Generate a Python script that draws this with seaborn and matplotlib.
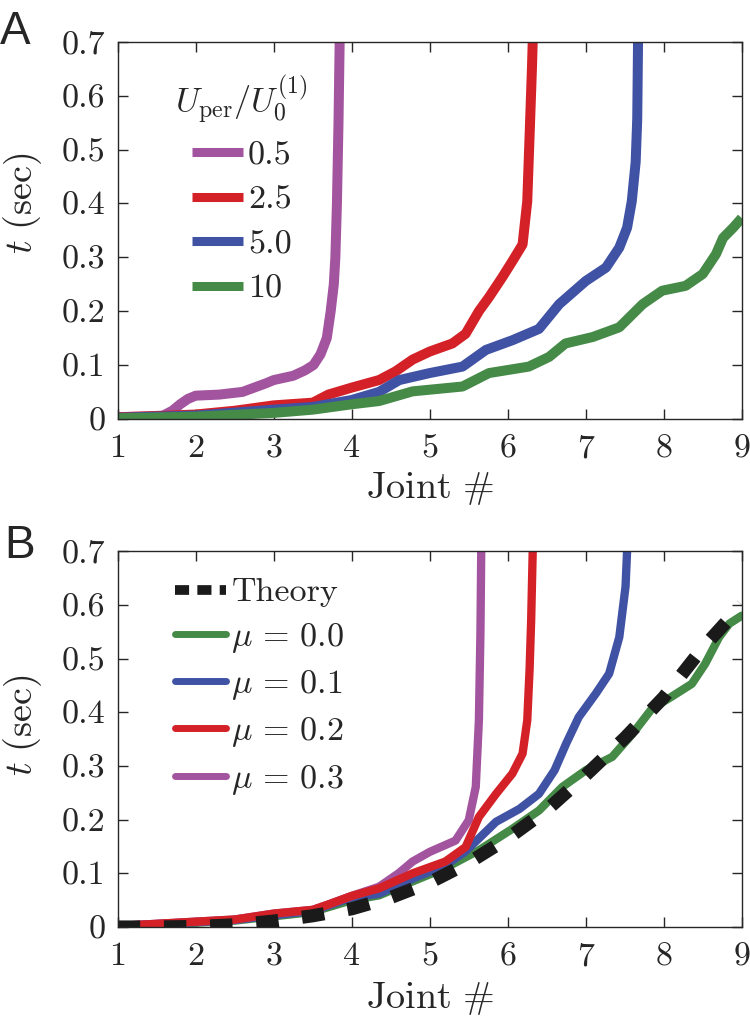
import matplotlib
matplotlib.use("Agg")
import matplotlib.pyplot as plt
import seaborn as sns

# ---------------- data ----------------
x_ticks = [1, 2, 3, 4, 5, 6, 7, 8, 9]
y_ticks = [0, 0.1, 0.2, 0.3, 0.4, 0.5, 0.6, 0.7]
y_tick_labels = ["0", "0.1", "0.2", "0.3", "0.4", "0.5", "0.6", "0.7"]

# Panel A: U_per / U_0^(1)
a_labels = ["0.5", "2.5", "5.0", "10"]
a05_x = [1.0, 1.3, 1.58, 1.7, 1.8, 1.9, 2.0, 2.3, 2.6, 2.75, 2.9, 3.0, 3.25, 3.4,
         3.51, 3.6, 3.68, 3.73, 3.77, 3.79, 3.81, 3.83, 3.84, 3.85]
a05_y = [0.003, 0.004, 0.006, 0.015, 0.027, 0.037, 0.043, 0.045, 0.05, 0.058, 0.066,
         0.072, 0.08, 0.09, 0.1, 0.12, 0.15, 0.2, 0.25, 0.3, 0.4, 0.55, 0.65, 0.75]
a25_x = [1.0, 1.5, 2.0, 2.5, 3.0, 3.5, 3.7, 4.0, 4.35, 4.56, 4.78, 5.0, 5.29, 5.46,
         5.63, 5.76, 5.93, 6.06, 6.19, 6.25, 6.28, 6.31, 6.33]
a25_y = [0.003, 0.005, 0.008, 0.015, 0.025, 0.03, 0.045, 0.058, 0.072, 0.088, 0.11,
         0.125, 0.14, 0.158, 0.2, 0.226, 0.263, 0.293, 0.324, 0.404, 0.526, 0.65,
         0.75]
a50_x = [1.0, 2.0, 3.0, 3.5, 4.0, 4.35, 4.61, 5.0, 5.42, 5.72, 6.06, 6.4, 6.66, 7.0,
         7.26, 7.43, 7.53, 7.59, 7.64, 7.66, 7.67, 7.67]
a50_y = [0.002, 0.006, 0.017, 0.022, 0.035, 0.05, 0.072, 0.085, 0.097, 0.128, 0.146,
         0.167, 0.213, 0.256, 0.281, 0.318, 0.355, 0.404, 0.477, 0.557, 0.695, 0.75]
a10_x = [1.0, 2.0, 3.0, 3.5, 4.0, 4.35, 4.78, 5.42, 5.76, 6.27, 6.53, 6.74, 7.09,
         7.43, 7.73, 7.98, 8.28, 8.5, 8.67, 8.76, 8.89, 9.0]
a10_y = [0.001, 0.004, 0.011, 0.017, 0.027, 0.033, 0.051, 0.06, 0.085, 0.097, 0.115,
         0.14, 0.152, 0.17, 0.213, 0.238, 0.247, 0.269, 0.306, 0.336, 0.355, 0.373]

# Panel B: friction coefficient mu
b_labels = ["Theory", r"$\mu\,=\,0.0$", r"$\mu\,=\,0.1$", r"$\mu\,=\,0.2$",
            r"$\mu\,=\,0.3$"]
theory_x = [1, 1.5, 2, 2.5, 3, 3.5, 4, 4.5, 5, 5.5, 6, 6.5, 7, 7.5, 8, 8.5, 9]
theory_y = [0, 0, 0.001, 0.004, 0.011, 0.021, 0.034, 0.055, 0.083, 0.12, 0.165,
            0.218, 0.283, 0.352, 0.428, 0.52, 0.6]
b00_x = [1, 2, 2.5, 3, 3.5, 3.7, 4.0, 4.35, 4.78, 5.2, 5.63, 6.06, 6.4, 6.7, 7.0,
         7.34, 7.6, 7.85, 8.1, 8.36, 8.53, 8.71, 8.84, 9.0]
b00_y = [0.002, 0.008, 0.012, 0.02, 0.028, 0.037, 0.05, 0.059, 0.085, 0.11, 0.143,
         0.183, 0.217, 0.261, 0.292, 0.317, 0.36, 0.407, 0.429, 0.453, 0.49, 0.54,
         0.565, 0.58]
b01_x = [1, 2, 2.5, 3, 3.5, 3.7, 4.0, 4.35, 4.78, 5.2, 5.45, 5.63, 5.85, 6.15, 6.4,
         6.6, 6.75, 6.91, 7.13, 7.3, 7.43, 7.51, 7.53]
b01_y = [0.002, 0.009, 0.013, 0.022, 0.03, 0.04, 0.055, 0.062, 0.09, 0.115, 0.14,
         0.165, 0.196, 0.22, 0.248, 0.292, 0.342, 0.391, 0.435, 0.472, 0.54, 0.634,
         0.70]
b02_x = [1, 2, 2.5, 3, 3.5, 3.7, 4.0, 4.35, 4.78, 5.2, 5.46, 5.63, 5.85, 6.06, 6.19,
         6.25, 6.28, 6.3, 6.32]
b02_y = [0.002, 0.01, 0.014, 0.025, 0.032, 0.042, 0.058, 0.072, 0.1, 0.122, 0.149,
         0.205, 0.248, 0.286, 0.323, 0.385, 0.48, 0.571, 0.70]
b03_x = [1, 2, 2.5, 3, 3.5, 3.7, 4.0, 4.35, 4.6, 4.78, 5.0, 5.33, 5.5, 5.59, 5.63,
         5.65, 5.66]
b03_y = [0.002, 0.01, 0.014, 0.025, 0.032, 0.042, 0.058, 0.075, 0.1, 0.122, 0.14,
         0.161, 0.199, 0.261, 0.385, 0.55, 0.70]

# ---------------- style ----------------
PURPLE = "#A3549F"
RED = "#D42128"
BLUE = "#3F52A4"
GREEN = "#468A48"
TXT = "#262626"

sns.set_theme(style="ticks")
plt.rcParams.update({
    "font.family": ["cmr10", "DejaVu Serif"],
    "mathtext.fontset": "cm",
    "axes.formatter.use_mathtext": True,
    "axes.unicode_minus": False,
    "text.color": TXT,
    "axes.labelcolor": TXT,
    "xtick.color": TXT,
    "ytick.color": TXT,
    "axes.edgecolor": TXT,
})

FS = 24.5     # tick labels / legend
FSL = 27.5    # axis labels

fig = plt.figure(figsize=(7.5, 10.24), dpi=100)
axA = fig.add_axes([0.157, 0.591, 0.832, 0.368])
axB = fig.add_axes([0.157, 0.0947, 0.832, 0.367])


def style_axes(ax):
    ax.set_xlim(1, 9)
    ax.set_ylim(0, 0.7)
    ax.set_xticks(x_ticks)
    ax.set_xticklabels([str(v) for v in x_ticks])
    ax.set_yticks(y_ticks)
    ax.set_yticklabels(y_tick_labels)
    ax.tick_params(direction="in", length=7, width=1, top=True, right=True,
                   labelsize=FS)
    ax.tick_params(axis="x", pad=11)
    ax.tick_params(axis="y", pad=9)
    for s in ax.spines.values():
        s.set_visible(True)
        s.set_linewidth(1.0)
    ax.set_xlabel(r"$\mathrm{Joint}\ \#$", fontsize=FSL)
    ax.set_ylabel(r"$t\ (\mathrm{sec})$", fontsize=FSL)


# ---------------- panel A ----------------
LWA = 7.2
for xs, ys, c, lab in [(a05_x, a05_y, PURPLE, a_labels[0]),
                       (a25_x, a25_y, RED, a_labels[1]),
                       (a50_x, a50_y, BLUE, a_labels[2]),
                       (a10_x, a10_y, GREEN, a_labels[3])]:
    sns.lineplot(x=xs, y=ys, ax=axA, color=c, linewidth=LWA, sort=False,
                 estimator=None, label=lab, solid_capstyle="butt",
                 solid_joinstyle="round")
style_axes(axA)
axA.yaxis.set_label_coords(-0.118, 0.573)
axA.xaxis.set_label_coords(0.5, -0.137)
hA, lA = axA.get_legend_handles_labels()
legA = axA.legend(hA, lA, loc="upper left", bbox_to_anchor=(0.065, 0.962),
                  frameon=False, fontsize=FS, title=r"$U_{\rm per}/U_0^{(1)}$",
                  title_fontsize=FS, handlelength=1.5, handletextpad=0.15,
                  labelspacing=0.43, borderpad=0.0)
for ln in legA.get_lines():
    ln.set_linewidth(6.5)

# ---------------- panel B ----------------
LWB = 6.0
for xs, ys, c, lab in [(b00_x, b00_y, GREEN, b_labels[1]),
                       (b01_x, b01_y, BLUE, b_labels[2]),
                       (b03_x, b03_y, PURPLE, b_labels[4]),
                       (b02_x, b02_y, RED, b_labels[3])]:
    sns.lineplot(x=xs, y=ys, ax=axB, color=c, linewidth=LWB, sort=False,
                 estimator=None, label=lab, solid_capstyle="round",
                 solid_joinstyle="round")
sns.lineplot(x=theory_x, y=theory_y, ax=axB, color="#1a1a1a", linewidth=9.5,
             sort=False, estimator=None, label=b_labels[0])
axB.get_lines()[-1].set_dashes((1.7, 1.8))
axB.get_lines()[-1].set_dash_capstyle("butt")
style_axes(axB)
axB.yaxis.set_label_coords(-0.118, 0.537)
axB.xaxis.set_label_coords(0.5, -0.14)
hB, lB = axB.get_legend_handles_labels()
order = [lB.index(l) for l in b_labels]
legB = axB.legend([hB[i] for i in order], [lB[i] for i in order],
                  loc="upper left", bbox_to_anchor=(0.065, 0.975), frameon=False,
                  fontsize=FS, handlelength=1.5, handletextpad=0.15,
                  labelspacing=0.39, borderpad=0.0)
for ln in legB.get_lines():
    ln.set_linewidth(5.0)
th = legB.get_lines()[0]
th.set_linewidth(7.0)
th.set_dashes((1.45, 0.85))
th.set_dash_capstyle("butt")

# panel letters
fig.text(0.0, 1 - 44 / 1024, "A", fontsize=33, family="Liberation Sans",
         color=TXT, ha="left", va="baseline")
fig.text(0.006, 1 - 558 / 1024, "B", fontsize=33, family="Liberation Sans",
         color=TXT, ha="left", va="baseline")

fig.savefig("out.png", dpi=100)
